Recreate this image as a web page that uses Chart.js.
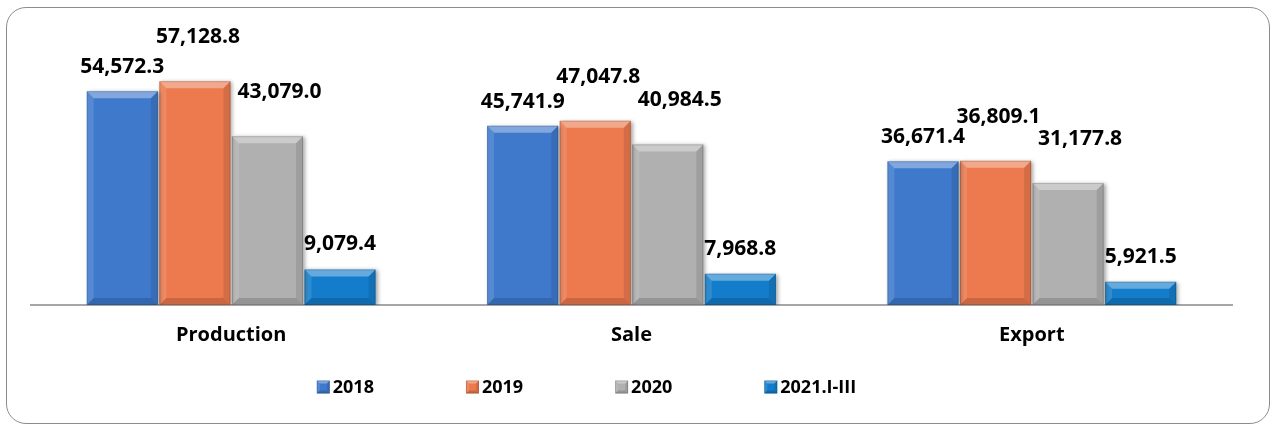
<!DOCTYPE html>
<html>
<head>
<meta charset="utf-8">
<script src="https://cdn.jsdelivr.net/npm/chart.js@4"></script>
<style>
    html, body { margin: 0; padding: 0; background: #fff; }
    #wrap { position: relative; width: 1272px; height: 426px; }
    #frame {
        position: absolute; left: 6px; top: 7px; width: 1262px; height: 415px;
        border: 1.5px solid #8c8c8c; border-radius: 20px; pointer-events: none;
    }
</style>
</head>
<body>
<div id="wrap">
    <canvas id="myChart" width="1272" height="426"></canvas>
    <div id="frame"></div>
</div>
<script>
var categories = ["Production", "Sale", "Export"];
var seriesNames = ["2018", "2019", "2020", "2021.I-III"];
var values2018 = [54572.3, 45741.9, 36671.4];
var values2019 = [57128.8, 47047.8, 36809.1];
var values2020 = [43079.0, 40984.5, 31177.8];
var values2021 = [9079.4, 7968.8, 5921.5];

var colors = ["#3e79cc", "#ec7a4e", "#b0b0b0", "#137dcb"];
// label offset per series [dx, dy] above the bar top
var labelOffsets = [[0, 24], [3, 44], [12, 44], [0, 25]];
var fontFamily = "'Open Sans', 'Noto Sans', sans-serif";

function fmt(v) {
    return v.toLocaleString("en-US", {minimumFractionDigits: 1, maximumFractionDigits: 1});
}

// bevel look like the office 3D bars
function bevel(ctx, l, t, r, b, size) {
    var s = Math.min(size, (b - t) / 2, (r - l) / 2);
    ctx.save();
    ctx.beginPath();
    ctx.moveTo(l, t); ctx.lineTo(r, t); ctx.lineTo(r - s, t + s); ctx.lineTo(l + s, t + s); ctx.closePath();
    ctx.fillStyle = "rgba(255,255,255,0.35)";
    ctx.fill();
    ctx.beginPath();
    ctx.moveTo(l, t); ctx.lineTo(l + s, t + s); ctx.lineTo(l + s, b - s); ctx.lineTo(l, b); ctx.closePath();
    ctx.fillStyle = "rgba(255,255,255,0.12)";
    ctx.fill();
    ctx.beginPath();
    ctx.moveTo(r, t); ctx.lineTo(r, b); ctx.lineTo(r - s, b - s); ctx.lineTo(r - s, t + s); ctx.closePath();
    ctx.fillStyle = "rgba(0,0,0,0.10)";
    ctx.fill();
    ctx.beginPath();
    ctx.moveTo(l, b); ctx.lineTo(l + s, b - s); ctx.lineTo(r - s, b - s); ctx.lineTo(r, b); ctx.closePath();
    ctx.fillStyle = "rgba(0,0,0,0.15)";
    ctx.fill();
    ctx.strokeStyle = "rgba(0,0,0,0.15)";
    ctx.lineWidth = 1;
    ctx.strokeRect(l + 0.5, t + 0.5, r - l - 1, b - t - 1);
    ctx.restore();
}

var barStyle = {
    id: "barStyle",
    beforeDatasetsDraw: function (chart) {
        var ctx = chart.ctx;
        ctx.save();
        ctx.shadowColor = "rgba(0,0,0,0.35)";
        ctx.shadowBlur = 4;
        ctx.shadowOffsetX = 2;
        ctx.shadowOffsetY = 1;
    },
    afterDatasetsDraw: function (chart) {
        var ctx = chart.ctx;
        ctx.restore();
        chart.data.datasets.forEach(function (ds, i) {
            var meta = chart.getDatasetMeta(i);
            meta.data.forEach(function (bar, j) {
                var p = bar.getProps(["x", "y", "base", "width"], true);
                bevel(ctx, p.x - p.width / 2, p.y, p.x + p.width / 2, p.base, 7);
                // value label
                ctx.save();
                ctx.font = "bold 21px " + fontFamily;
                ctx.fillStyle = "#000";
                ctx.textAlign = "center";
                ctx.textBaseline = "middle";
                ctx.fillText(fmt(ds.data[j]), p.x + labelOffsets[i][0], p.y - labelOffsets[i][1]);
                ctx.restore();
            });
        });
    }
};

// legend drawn like the original: small bevel squares, wide gaps
var legendBox = {
    id: "legendBox",
    afterDraw: function (chart) {
        var ctx = chart.ctx;
        var box = 13, gap = 3, spacing = 92, cy = 387;
        ctx.save();
        ctx.font = "bold 18px " + fontFamily;
        var widths = chart.data.datasets.map(function (ds) {
            return box + gap + ctx.measureText(ds.label).width;
        });
        var total = widths.reduce(function (a, b) { return a + b; }, 0) + spacing * (widths.length - 1);
        var x = (chart.chartArea.left + chart.chartArea.right) / 2 - 45 - total / 2;
        chart.data.datasets.forEach(function (ds, i) {
            ctx.fillStyle = ds.backgroundColor;
            ctx.fillRect(x, cy - box / 2, box, box);
            bevel(ctx, x, cy - box / 2, x + box, cy + box / 2, 3);
            ctx.fillStyle = "#000";
            ctx.textAlign = "left";
            ctx.textBaseline = "middle";
            ctx.fillText(ds.label, x + box + gap, cy + 1);
            x += widths[i] + spacing;
        });
        ctx.restore();
    }
};

var ctx = document.getElementById("myChart").getContext("2d");
var seriesValues = [values2018, values2019, values2020, values2021];
var datasets = [];
for (var i = 0; i < seriesNames.length; i++) {
    datasets.push({
        label: seriesNames[i],
        data: seriesValues[i],
        backgroundColor: colors[i],
        borderWidth: 0,
        barPercentage: 0.98,
        categoryPercentage: 0.725
    });
}

var myChart = new Chart(ctx, {
    type: "bar",
    data: {labels: categories, datasets: datasets},
    options: {
        responsive: false,
        animation: false,
        layout: {padding: {left: 31, right: 40, top: 70, bottom: 61}},
        plugins: {
            legend: {display: false},
            tooltip: {enabled: false}
        },
        scales: {
            x: {
                grid: {display: false, drawTicks: false},
                border: {display: true, color: "#a6a6a6", width: 2},
                ticks: {
                    color: "#000",
                    padding: 18,
                    font: {family: fontFamily, size: 20, weight: "bold"}
                }
            },
            y: {
                display: false,
                min: 0,
                max: 60000
            }
        }
    },
    plugins: [barStyle, legendBox]
});
</script>
</body>
</html>
